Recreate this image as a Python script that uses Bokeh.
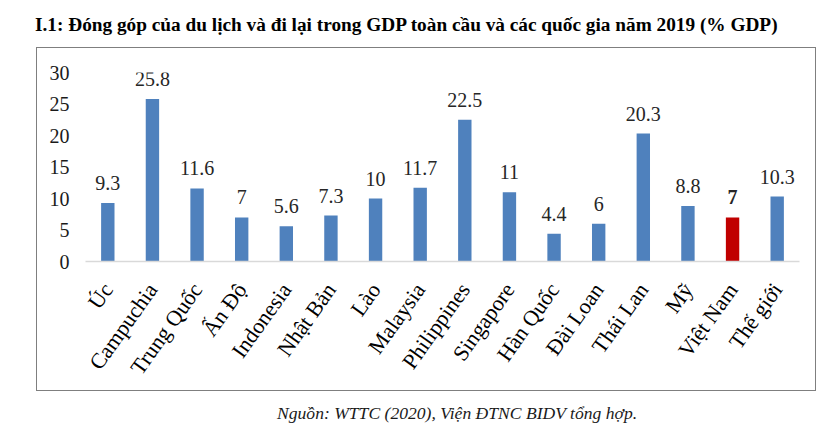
from bokeh.plotting import figure
from bokeh.models import ColumnDataSource, FactorRange, Range1d, Div
from bokeh.layouts import column
from bokeh.core.properties import value
from bokeh.embed import file_html
from bokeh.resources import INLINE

countries = ["Úc", "Campuchia", "Trung Quốc", "Ấn Độ", "Indonesia", "Nhật Bản", "Lào",
             "Malaysia", "Philippines", "Singapore", "Hàn Quốc", "Đài Loan", "Thái Lan",
             "Mỹ", "Việt Nam", "Thế giới"]
values = [9.3, 25.8, 11.6, 7, 5.6, 7.3, 10, 11.7, 22.5, 11, 4.4, 6, 20.3, 8.8, 7, 10.3]
value_labels = ["9.3", "25.8", "11.6", "7", "5.6", "7.3", "10", "11.7", "22.5", "11",
                "4.4", "6", "20.3", "8.8", "7", "10.3"]
highlight = "Việt Nam"
y_ticks = [0, 5, 10, 15, 20, 25, 30]

title_text = "I.1: Đóng góp của du lịch và đi lại trong GDP toàn cầu và các quốc gia năm 2019 (% GDP)"
source_text = "Nguồn: WTTC (2020), Viện ĐTNC BIDV tổng hợp."

BLUE = "#4f81bd"
RED = "#c00000"
FONT = "Liberation Serif"

colors = [RED if c == highlight else BLUE for c in countries]
styles = ["bold" if c == highlight else "normal" for c in countries]

src = ColumnDataSource(dict(x=countries, y=values, lab=value_labels, color=colors, style=styles))

p = figure(width=780, height=344, x_range=FactorRange(*countries, range_padding=0),
           y_range=Range1d(0, 30), output_backend="svg", toolbar_location=None,
           min_border_left=48, min_border_right=18, min_border_top=24, min_border_bottom=131,
           margin=(0, 0, 0, 36))
p.styles = {"border": "1px solid #7f7f7f", "box-sizing": "border-box"}
p.outline_line_color = None
p.background_fill_color = "white"
p.border_fill_color = "white"
p.xgrid.visible = False
p.ygrid.visible = False

p.vbar(x="x", top="y", width=0.3, color="color", source=src, line_color=None)
p.text(x="x", y="y", text="lab", source=src, text_align="center", text_baseline="bottom",
       y_offset=-13, text_font=value(FONT), text_font_size="20px", text_color="#262626",
       text_font_style="style")

# y axis
p.yaxis.ticker = y_ticks
p.yaxis.axis_line_color = None
p.yaxis.major_tick_line_color = None
p.yaxis.minor_tick_line_color = None
p.yaxis.major_tick_out = 0
p.yaxis.major_label_standoff = 16
p.yaxis.major_label_text_font = FONT
p.yaxis.major_label_text_font_size = "20px"
p.yaxis.major_label_text_color = "#1a1a1a"

# x axis
p.xaxis.axis_line_color = "#d9d9d9"
p.xaxis.axis_line_width = 1.5
p.xaxis.major_tick_line_color = None
p.xaxis.minor_tick_line_color = None
p.xaxis.major_tick_out = 0
p.xaxis.major_label_orientation = 0.95
p.xaxis.major_label_standoff = 24
p.xaxis.major_label_text_font = FONT
p.xaxis.major_label_text_font_size = "22px"
p.xaxis.major_label_text_color = "#000000"

title = Div(text=title_text, width=836, height=47, margin=(0, 0, 0, 0),
            styles={"font-family": FONT, "font-size": "19.3px", "font-weight": "bold",
                    "color": "#000000", "padding-left": "35px", "padding-top": "11px",
                    "box-sizing": "border-box", "white-space": "nowrap"})
caption = Div(text=source_text, width=836, height=48, margin=(0, 0, 0, 0),
              styles={"font-family": FONT, "font-size": "17.6px", "font-style": "italic",
                      "color": "#1a1a1a", "padding-left": "277px", "padding-top": "10px",
                      "box-sizing": "border-box", "white-space": "nowrap"})

layout = column(title, p, caption, spacing=0)
open("out.html", "w").write(file_html(layout, INLINE))
